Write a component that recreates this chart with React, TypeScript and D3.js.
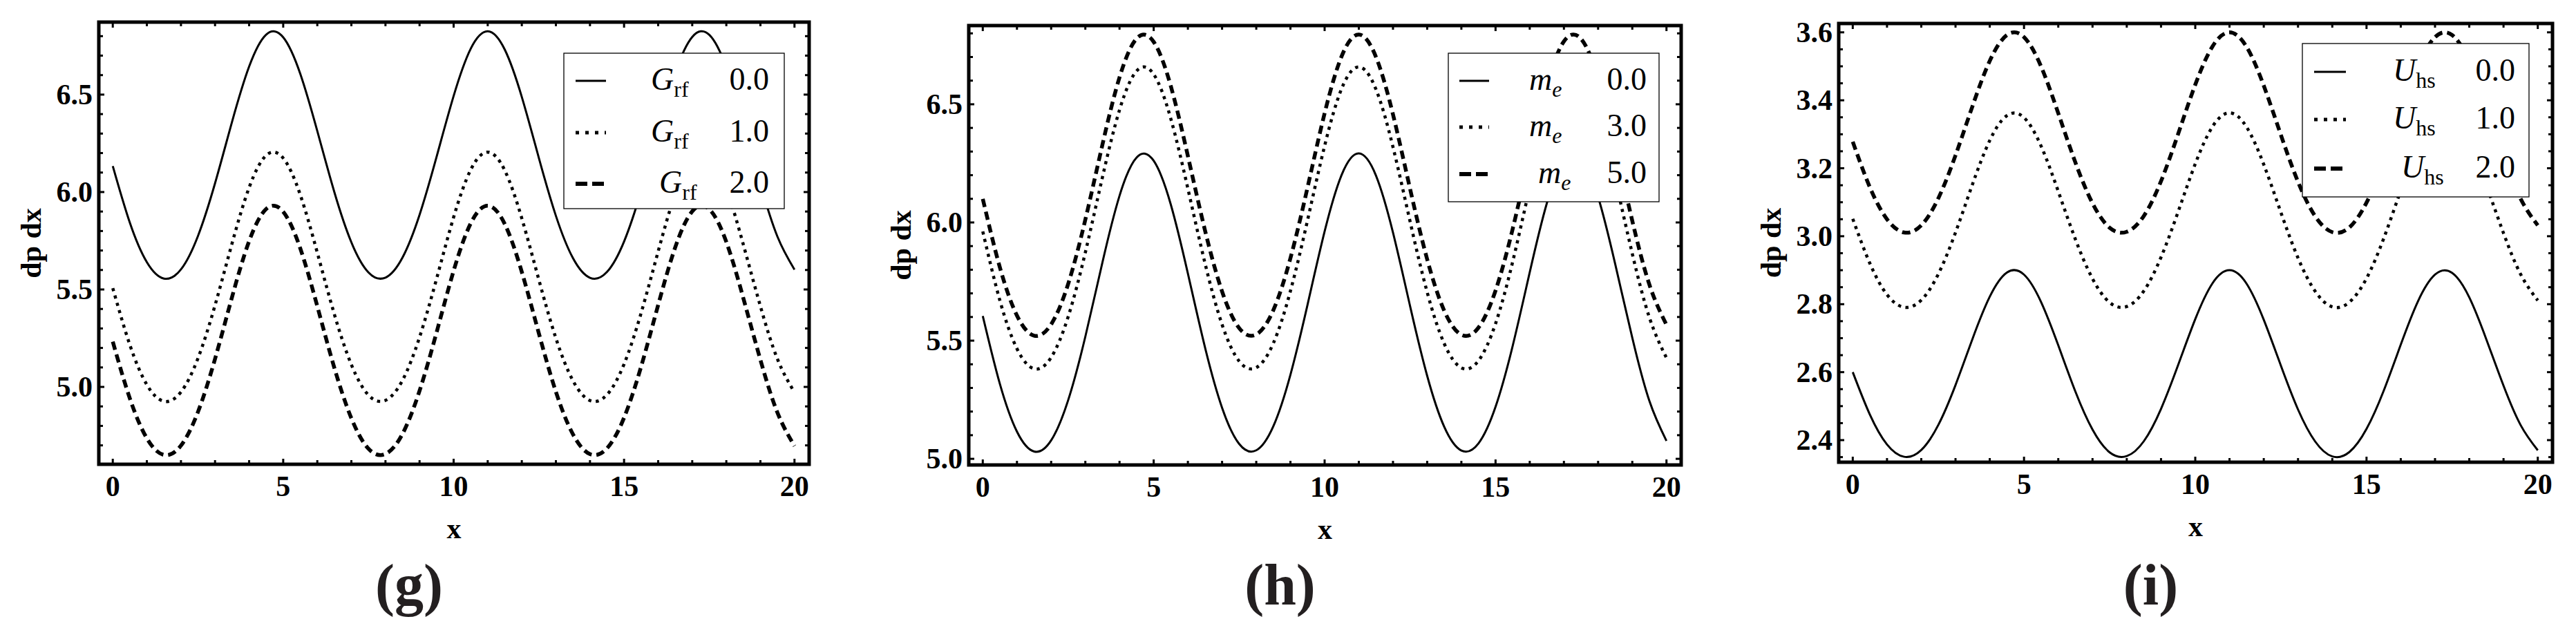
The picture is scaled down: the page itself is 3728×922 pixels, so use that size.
import * as d3 from "d3";

const W = 3728;
const H = 922;

// sample positions along x (same for every curve)
const xs = [
    0, 0.5, 1, 1.5, 2, 2.5, 3, 3.5, 4, 4.5, 5, 5.5, 6, 6.5, 7, 7.5, 8, 8.5, 9, 9.5, 10,
    10.5, 11, 11.5, 12, 12.5, 13, 13.5, 14, 14.5, 15, 15.5, 16, 16.5, 17, 17.5, 18, 18.5, 19, 19.5, 20,
];

// panel (g): G_rf = 0.0, 1.0, 2.0
const grf0 = [
    6.133, 5.843, 5.64, 5.556, 5.603, 5.775, 6.045, 6.361, 6.644, 6.808, 6.794, 6.607, 6.313, 6.0, 5.742, 5.588, 5.561, 5.664, 5.883, 6.181, 6.493,
    6.735, 6.825, 6.731, 6.488, 6.175, 5.878, 5.661, 5.56, 5.59, 5.746, 6.005, 6.319, 6.612, 6.796, 6.807, 6.64, 6.354, 6.04, 5.771, 5.602,
];
const grf1 = [
    5.507, 5.216, 5.011, 4.926, 4.974, 5.147, 5.419, 5.737, 6.023, 6.188, 6.174, 5.986, 5.689, 5.373, 5.114, 4.958, 4.931, 5.034, 5.255, 5.555, 5.871,
    6.114, 6.205, 6.111, 5.865, 5.55, 5.25, 5.032, 4.93, 4.96, 5.117, 5.379, 5.695, 5.991, 6.176, 6.187, 6.019, 5.73, 5.414, 5.143, 4.972,
];
const grf2 = [
    5.232, 4.941, 4.736, 4.651, 4.699, 4.872, 5.144, 5.462, 5.748, 5.913, 5.899, 5.711, 5.414, 5.098, 4.839, 4.683, 4.656, 4.759, 4.98, 5.28, 5.596,
    5.839, 5.93, 5.836, 5.59, 5.275, 4.975, 4.757, 4.655, 4.685, 4.842, 5.104, 5.42, 5.716, 5.901, 5.912, 5.744, 5.455, 5.139, 4.868, 4.697,
];

// panel (h): m_e = 0.0, 3.0, 5.0
const me0 = [
    5.604, 5.317, 5.115, 5.031, 5.078, 5.249, 5.517, 5.831, 6.113, 6.275, 6.261, 6.076, 5.784, 5.472, 5.216, 5.063, 5.036, 5.138, 5.356, 5.652, 5.962,
    6.202, 6.292, 6.199, 5.957, 5.646, 5.351, 5.135, 5.035, 5.065, 5.22, 5.477, 5.789, 6.081, 6.263, 6.274, 6.108, 5.824, 5.512, 5.245, 5.076,
];
const me3 = [
    5.962, 5.67, 5.466, 5.381, 5.429, 5.602, 5.873, 6.191, 6.476, 6.641, 6.627, 6.439, 6.143, 5.828, 5.568, 5.413, 5.386, 5.489, 5.71, 6.009, 6.324,
    6.567, 6.658, 6.564, 6.319, 6.004, 5.705, 5.487, 5.385, 5.415, 5.572, 5.833, 6.149, 6.444, 6.629, 6.64, 6.472, 6.184, 5.868, 5.598, 5.427,
];
const me5 = [
    6.1, 5.81, 5.606, 5.521, 5.569, 5.741, 6.012, 6.329, 6.614, 6.778, 6.764, 6.577, 6.281, 5.967, 5.708, 5.553, 5.526, 5.629, 5.849, 6.148, 6.462,
    6.704, 6.795, 6.701, 6.457, 6.142, 5.844, 5.626, 5.525, 5.555, 5.712, 5.972, 6.287, 6.581, 6.766, 6.777, 6.61, 6.322, 6.007, 5.737, 5.567,
];

// panel (i): U_hs = 0.0, 1.0, 2.0
const uhs0 = [
    2.6, 2.475, 2.387, 2.351, 2.371, 2.445, 2.562, 2.699, 2.822, 2.893, 2.887, 2.806, 2.679, 2.543, 2.431, 2.364, 2.353, 2.397, 2.492, 2.621, 2.756,
    2.861, 2.9, 2.86, 2.754, 2.619, 2.49, 2.396, 2.352, 2.365, 2.433, 2.545, 2.681, 2.808, 2.887, 2.892, 2.82, 2.696, 2.56, 2.444, 2.37,
];
const uhs1 = [
    3.051, 2.92, 2.828, 2.791, 2.812, 2.889, 3.011, 3.154, 3.282, 3.355, 3.349, 3.265, 3.132, 2.991, 2.875, 2.805, 2.793, 2.839, 2.938, 3.072, 3.213,
    3.322, 3.363, 3.321, 3.211, 3.07, 2.936, 2.838, 2.792, 2.806, 2.876, 2.993, 3.135, 3.267, 3.35, 3.355, 3.28, 3.15, 3.009, 2.888, 2.811,
];
const uhs2 = [
    3.278, 3.144, 3.05, 3.011, 3.032, 3.112, 3.238, 3.384, 3.516, 3.592, 3.586, 3.499, 3.362, 3.217, 3.097, 3.025, 3.013, 3.06, 3.162, 3.301, 3.446,
    3.558, 3.6, 3.557, 3.443, 3.298, 3.16, 3.059, 3.012, 3.026, 3.099, 3.219, 3.365, 3.501, 3.586, 3.592, 3.514, 3.381, 3.235, 3.11, 3.032,
];

const xTicks = [0, 5, 10, 15, 20];
const yTicksGH = [5.0, 5.5, 6.0, 6.5];
const yTicksI = [2.4, 2.6, 2.8, 3.0, 3.2, 3.4, 3.6];
const grfLabels = ["0.0", "1.0", "2.0"];
const meLabels = ["0.0", "3.0", "5.0"];
const uhsLabels = ["0.0", "1.0", "2.0"];

const X_DOMAIN: [number, number] = [-0.41, 20.43];
const FONT = "'Liberation Serif', 'Times New Roman', serif";

// stroke style per series index: solid, dotted, dashed
const LINE_STYLES = [
    { width: 3, dash: undefined as string | undefined },
    { width: 4.5, dash: "4.5 6.5" },
    { width: 5.5, dash: "12 7" },
];
const LEGEND_STYLES = [
    { width: 3, dash: undefined as string | undefined },
    { width: 5, dash: "5 9" },
    { width: 6, dash: "17 7" },
];

type Frame = { left: number; right: number; top: number; bottom: number };
type Legend = {
    left: number;
    top: number;
    width: number;
    height: number;
    rows: number[];
    sampleX: number;
    sampleLen: number;
    symX: number;
    numX: number;
    lastShift: number;
};
type PanelSpec = {
    key: string;
    label: string;
    frame: Frame;
    yDomain: [number, number];
    yTicks: number[];
    yMinorStep: number;
    series: number[][];
    symbol: { main: string; sub: string; subItalic: boolean };
    values: string[];
    legend: Legend;
};

const panels: PanelSpec[] = [
    {
        key: "g",
        label: "(g)",
        frame: { left: 143, right: 1171, top: 32, bottom: 672 },
        yDomain: [4.603, 6.872],
        yTicks: yTicksGH,
        yMinorStep: 0.1,
        series: [grf0, grf1, grf2],
        symbol: { main: "G", sub: "rf", subItalic: false },
        values: grfLabels,
        legend: { left: 816, top: 77, width: 319, height: 225, rows: [40, 115, 189], sampleX: 17, sampleLen: 44, symX: 126, numX: 297, lastShift: 12 },
    },
    {
        key: "h",
        label: "(h)",
        frame: { left: 1402, right: 2433, top: 37, bottom: 673 },
        yDomain: [4.974, 6.833],
        yTicks: yTicksGH,
        yMinorStep: 0.1,
        series: [me0, me3, me5],
        symbol: { main: "m", sub: "e", subItalic: true },
        values: meLabels,
        legend: { left: 2096, top: 77, width: 305, height: 215, rows: [40, 107, 175], sampleX: 16, sampleLen: 43, symX: 117, numX: 287, lastShift: 13 },
    },
    {
        key: "i",
        label: "(i)",
        frame: { left: 2661, right: 3694, top: 34, bottom: 669 },
        yDomain: [2.335, 3.626],
        yTicks: yTicksI,
        yMinorStep: 0.05,
        series: [uhs0, uhs1, uhs2],
        symbol: { main: "U", sub: "hs", subItalic: false },
        values: uhsLabels,
        legend: { left: 3332, top: 63, width: 328, height: 222, rows: [41, 110, 181], sampleX: 17, sampleLen: 46, symX: 131, numX: 308, lastShift: 12 },
    },
];

function Panel({ p }: { p: PanelSpec }) {
    const { frame, legend } = p;
    const x = d3.scaleLinear().domain(X_DOMAIN).range([frame.left, frame.right]);
    const y = d3.scaleLinear().domain(p.yDomain).range([frame.bottom, frame.top]);
    const line = d3
        .line<number>()
        .x((_, i) => x(xs[i]))
        .y((d) => y(d))
        .curve(d3.curveNatural);

    const xMinor = d3.range(0, 21, 1);
    const yMinor = d3
        .range(Math.ceil(p.yDomain[0] / p.yMinorStep) * p.yMinorStep, p.yDomain[1], p.yMinorStep)
        .filter((v) => v > p.yDomain[0] && v < p.yDomain[1]);
    const isMajorY = (v: number) => p.yTicks.some((t) => Math.abs(t - v) < 1e-6);
    const fmt = d3.format(".1f");
    const clipId = `clip-${p.key}`;
    const midX = (frame.left + frame.right) / 2;
    const midY = (frame.top + frame.bottom) / 2;

    return (
        <g>
            <defs>
                <clipPath id={clipId}>
                    <rect x={frame.left} y={frame.top} width={frame.right - frame.left} height={frame.bottom - frame.top} />
                </clipPath>
            </defs>

            <g clipPath={`url(#${clipId})`}>
                {p.series.map((s, i) => (
                    <path
                        key={i}
                        d={line(s) ?? ""}
                        fill="none"
                        stroke="#000"
                        strokeWidth={LINE_STYLES[i].width}
                        strokeDasharray={LINE_STYLES[i].dash}
                        strokeLinecap="butt"
                    />
                ))}
            </g>

            {/* legend */}
            <rect x={legend.left} y={legend.top} width={legend.width} height={legend.height} fill="#fff" stroke="#000" strokeWidth={1.3} />
            {p.values.map((v, i) => {
                const ry = legend.top + legend.rows[i];
                const shift = i === 2 ? legend.lastShift : 0;
                return (
                    <g key={v + i}>
                        <line
                            x1={legend.left + legend.sampleX}
                            x2={legend.left + legend.sampleX + legend.sampleLen}
                            y1={ry}
                            y2={ry}
                            stroke="#000"
                            strokeWidth={LEGEND_STYLES[i].width}
                            strokeDasharray={LEGEND_STYLES[i].dash}
                        />
                        <text x={legend.left + legend.symX + shift} y={ry + 13} fontSize={46} fontFamily={FONT}>
                            <tspan fontStyle="italic">{p.symbol.main}</tspan>
                            <tspan fontSize={32} dy={10} fontStyle={p.symbol.subItalic ? "italic" : "normal"}>
                                {p.symbol.sub}
                            </tspan>
                        </text>
                        <text x={legend.left + legend.numX} y={ry + 13} fontSize={46} fontFamily={FONT} textAnchor="end">
                            {v}
                        </text>
                    </g>
                );
            })}

            {/* frame */}
            <rect
                x={frame.left}
                y={frame.top}
                width={frame.right - frame.left}
                height={frame.bottom - frame.top}
                fill="none"
                stroke="#000"
                strokeWidth={5}
            />

            {/* x ticks, bottom and top */}
            {xMinor.map((t) => {
                const len = xTicks.includes(t) ? 8 : 6;
                return (
                    <g key={`x${t}`} stroke="#000" strokeWidth={3}>
                        <line x1={x(t)} x2={x(t)} y1={frame.bottom} y2={frame.bottom - len} />
                        <line x1={x(t)} x2={x(t)} y1={frame.top} y2={frame.top + len} />
                    </g>
                );
            })}
            {/* y ticks, left and right */}
            {yMinor.map((t) => {
                const len = isMajorY(t) ? 8 : 6;
                return (
                    <g key={`y${t}`} stroke="#000" strokeWidth={3}>
                        <line x1={frame.left} x2={frame.left + len} y1={y(t)} y2={y(t)} />
                        <line x1={frame.right} x2={frame.right - len} y1={y(t)} y2={y(t)} />
                    </g>
                );
            })}

            {/* tick labels */}
            {xTicks.map((t) => (
                <text key={`xl${t}`} x={x(t)} y={frame.bottom + 46} fontSize={42} fontWeight="bold" fontFamily={FONT} textAnchor="middle">
                    {t}
                </text>
            ))}
            {p.yTicks.map((t) => (
                <text key={`yl${t}`} x={frame.left - 9} y={y(t) + 14} fontSize={42} fontWeight="bold" fontFamily={FONT} textAnchor="end">
                    {fmt(t)}
                </text>
            ))}

            {/* axis titles */}
            <text x={midX} y={frame.bottom + 107} fontSize={42} fontWeight="bold" fontFamily={FONT} textAnchor="middle">
                x
            </text>
            <text
                transform={`translate(${frame.left - 84},${midY}) rotate(-90)`}
                fontSize={42}
                fontWeight="bold"
                fontFamily={FONT}
                textAnchor="middle"
            >
                dp dx
            </text>

            {/* panel caption */}
            <text x={midX - 65} y={875} fontSize={84} fontWeight="bold" fontFamily={FONT} textAnchor="middle" fill="#231f20">
                {p.label}
            </text>
        </g>
    );
}

export default function App() {
    return (
        <svg width={W} height={H} viewBox={`0 0 ${W} ${H}`} style={{ position: "absolute", left: 0, top: 0, display: "block" }}>
            <rect width={W} height={H} fill="#fff" />
            {panels.map((p) => (
                <Panel key={p.key} p={p} />
            ))}
        </svg>
    );
}
